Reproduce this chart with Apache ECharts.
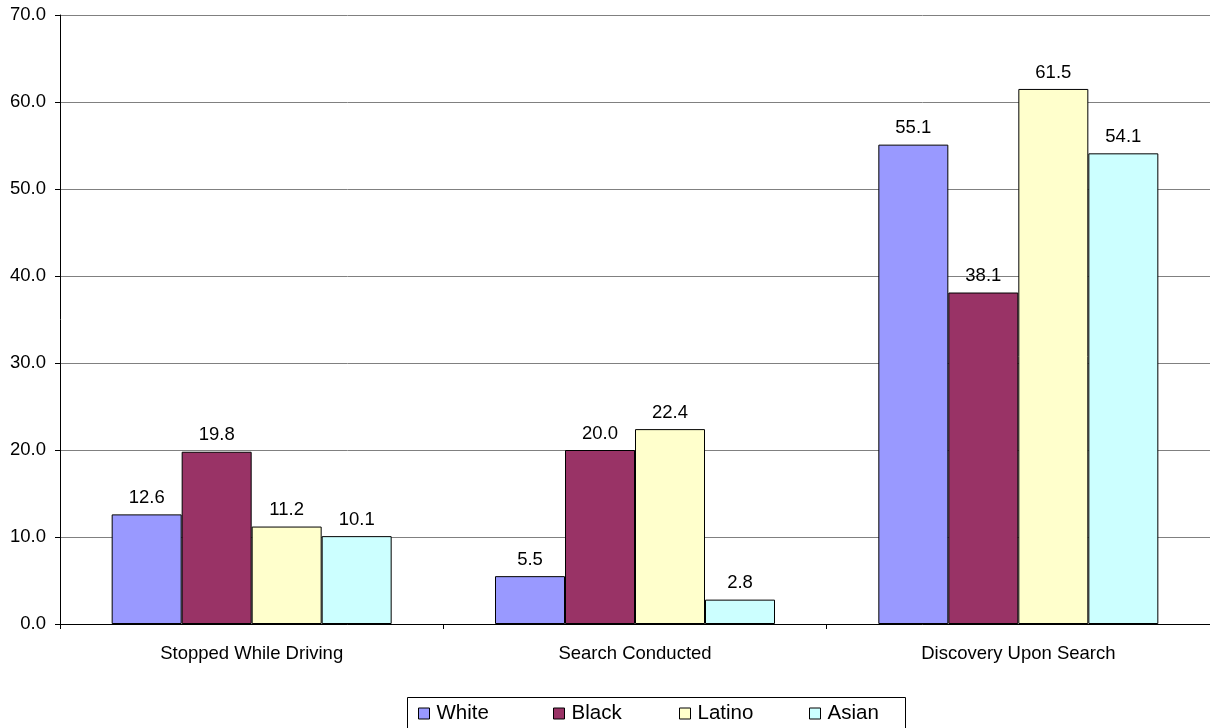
<!DOCTYPE html>
<html>
<head>
<meta charset="utf-8">
<script src="https://cdn.jsdelivr.net/npm/echarts@6/dist/echarts.min.js"></script>
<style>
  html, body { margin: 0; padding: 0; background: #fff; }
  #chart { width: 1210px; height: 728px; }
</style>
</head>
<body>
<div id="chart"></div>
<script>
// Rates by group, percent
const categories = ['Stopped While Driving', 'Search Conducted', 'Discovery Upon Search'];
const white = [12.6, 5.5, 55.1];
const black = [19.8, 20.0, 38.1];
const latino = [11.2, 22.4, 61.5];
const asian = [10.1, 2.8, 54.1];
const seriesNames = ['White', 'Black', 'Latino', 'Asian'];
const seriesColors = ['#9999FF', '#993366', '#FFFFCC', '#CCFFFF'];
const seriesValues = [white, black, latino, asian];

const font = 'Arial, "Liberation Sans", sans-serif';
const chart = echarts.init(document.getElementById('chart'));

const series = seriesNames.map((name, i) => ({
  name: name,
  type: 'bar',
  data: seriesValues[i],
  barWidth: 70,
  barGap: '0%',
  itemStyle: { color: seriesColors[i], borderColor: '#000', borderWidth: 1 },
  label: {
    show: true,
    position: 'top',
    distance: 7,
    color: '#000',
    fontFamily: font,
    fontSize: 18.5,
    formatter: p => p.value.toFixed(1)
  }
}));

// One legend per entry so the items sit at even spacing
const legendLefts = [418, 553, 679, 809];
const legends = seriesNames.map((name, i) => ({
  data: [name],
  left: legendLefts[i],
  top: 703,
  itemWidth: 11,
  itemHeight: 11,
  itemGap: 0,
  padding: 0,
  icon: 'rect',
  selectedMode: false,
  itemStyle: { borderColor: '#000', borderWidth: 1 },
  textStyle: { fontFamily: font, fontSize: 20.5, color: '#000', padding: [0, 0, 0, 2] }
}));

chart.setOption({
  animation: false,
  backgroundColor: '#fff',
  grid: { left: 60, right: -2, top: 15, bottom: 104 },
  xAxis: {
    type: 'category',
    data: categories,
    axisLine: { lineStyle: { color: '#000', width: 1 } },
    axisTick: { show: true, length: 5, lineStyle: { color: '#000' } },
    axisLabel: { color: '#000', fontFamily: font, fontSize: 18.5, margin: 20 }
  },
  yAxis: {
    type: 'value',
    min: 0,
    max: 70,
    interval: 10,
    axisLine: { show: true, lineStyle: { color: '#000', width: 1 } },
    axisTick: { show: true, length: 5, lineStyle: { color: '#000' } },
    axisLabel: {
      color: '#000', fontFamily: font, fontSize: 18.5, margin: 14,
      formatter: v => v.toFixed(1)
    },
    splitLine: { show: true, lineStyle: { color: '#808080', width: 1 } }
  },
  legend: legends,
  graphic: [{
    type: 'rect',
    shape: { x: 407.5, y: 697.5, width: 498, height: 40 },
    style: { fill: '#fff', stroke: '#000', lineWidth: 1 },
    z: -1
  }],
  series: series
});
</script>
</body>
</html>
